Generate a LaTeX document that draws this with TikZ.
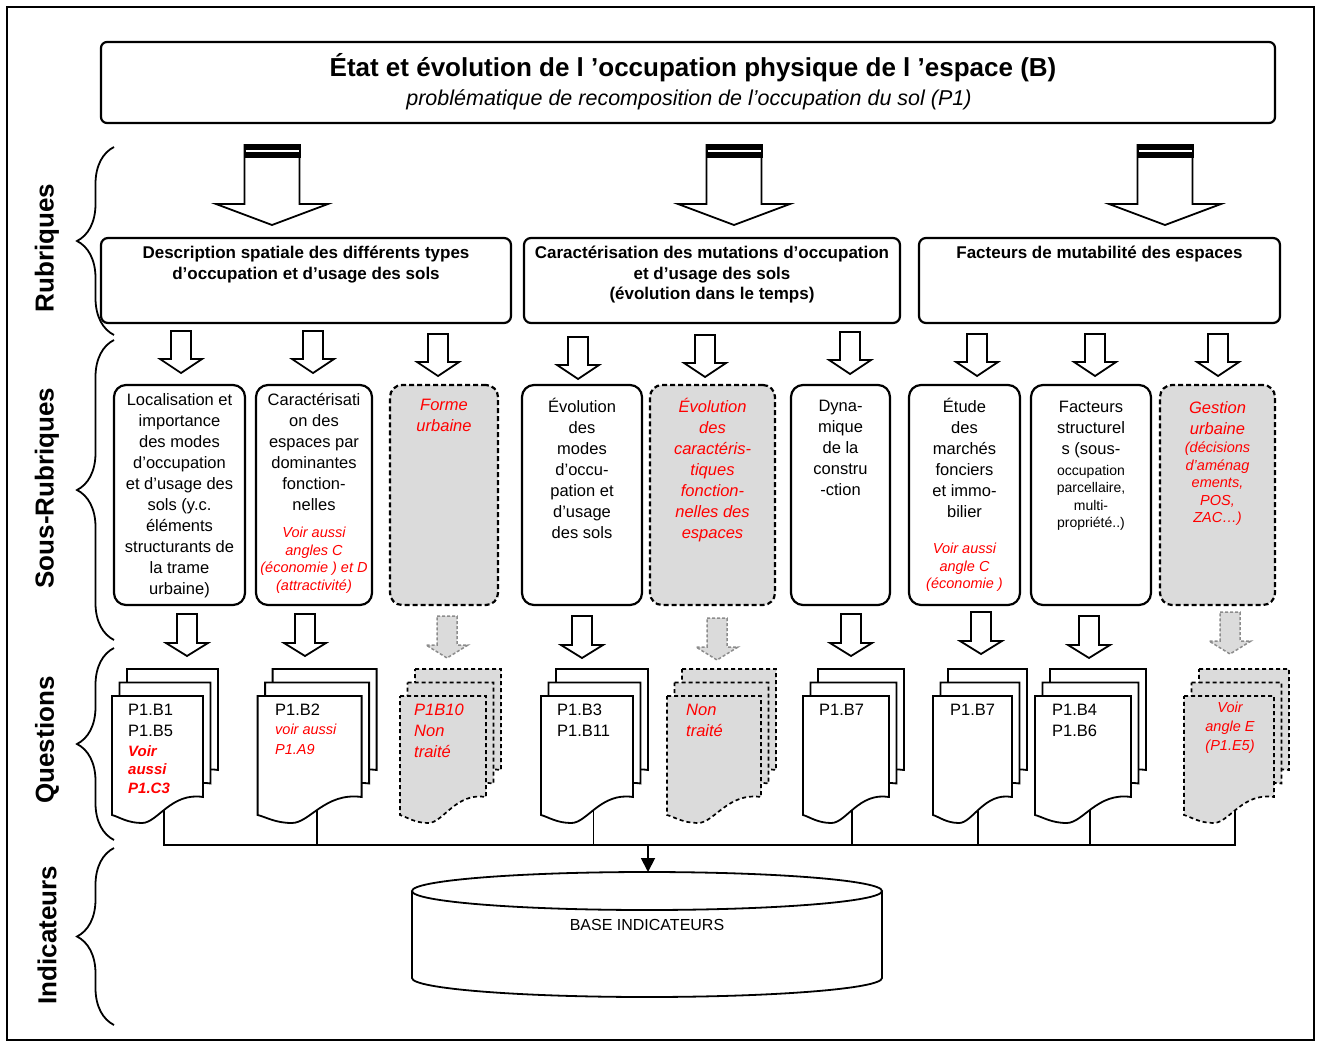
\documentclass[tikz,border=0pt]{standalone}
\usepackage{fontspec}
\setmainfont{Liberation Sans}
\usetikzlibrary{positioning}
\usetikzlibrary{arrows.meta}
\usetikzlibrary{decorations.pathreplacing}

\tikzset{
  fleche/.style={draw, line width=1.8pt, fill=white},
  flechegris/.style={draw=black!45, dash pattern=on 3pt off 2pt, line width=1.5pt, fill=black!14},
  page/.style={draw, line width=1.8pt, fill=white},
  pagegris/.style={draw, line width=1.7pt, fill=black!14, dash pattern=on 4pt off 3pt},
}

% pile de trois feuilles : style, x gauche, largeur, nom du point bas
\newcommand{\pile}[4]{%
  \foreach \k in {2,1,0}
    \draw[#1, shift={(#2+\k*7.5,696-\k*13.5)}] (0,0) -- (#3,0) -- (#3,101)
      .. controls (0.65*#3,96) and (0.5*#3,127) .. (0.33*#3,127)
      .. controls (0.17*#3,127) and (0.08*#3,121) .. (0,119) -- cycle;
  \coordinate (#4) at (#2+0.57*#3,810);
}

\begin{document}
\begin{tikzpicture}[x=1pt, y=-1pt,
  titrebox/.style={draw, line width=2.2pt, rounded corners=6pt},
  rubbox/.style={draw, line width=2.2pt, rounded corners=7pt, minimum height=85pt},
  rubtext/.style={font=\bfseries\fontsize{17}{20.5}\selectfont, align=center, inner sep=0pt, anchor=north},
  sousbox/.style={draw, line width=2.2pt, rounded corners=12pt, minimum height=220pt},
  grisbox/.style={sousbox, fill=black!14, dash pattern=on 5pt off 3pt},
  soustext/.style={font=\fontsize{16.5}{21}\selectfont, align=center, inner sep=0pt, anchor=north},
  petittext/.style={font=\fontsize{14}{17.5}\selectfont, align=center, inner sep=0pt, anchor=north},
  rougetext/.style={soustext, text=red, font=\itshape\fontsize{16.5}{21}\selectfont},
  rougepetit/.style={petittext, text=red, font=\itshape\fontsize{14.5}{17.5}\selectfont},
  doctext/.style={font=\fontsize{16.5}{20.5}\selectfont, align=left, inner sep=0pt, anchor=north west},
  docrouge/.style={doctext, text=red, font=\itshape\fontsize{14.5}{19.5}\selectfont},
  accolade/.style={decorate, decoration={brace, amplitude=37pt}, line width=1.8pt},
  etiq/.style={rotate=90, font=\bfseries\fontsize{26}{26}\selectfont},
]
\useasboundingbox (0,0) rectangle (1321,1043);
\draw[line width=2.5pt] (7,7) rectangle (1314,1040);

% titre
\node[titrebox, minimum width=1174pt, minimum height=81pt] (titre) at (688,82.5) {};
\node[font=\bfseries\fontsize{26}{30}\selectfont] (titre-t) at (693,68) {État et évolution de l ’occupation physique de l ’espace (B)};
\node[font=\itshape\fontsize{21.5}{24}\selectfont] (titre-s) at (689,100) {problématique de recomposition de  l’occupation du sol (P1)};

% accolades et etiquettes
\foreach \ya/\yb in {147/335, 340/640, 648/840, 848/1025}
  \draw[accolade] (114,\yb) -- (114,\ya);
\node[etiq] (l-rub) at (47,248) {Rubriques};
\node[etiq] (l-sous) at (47,488) {Sous-Rubriques};
\node[etiq] (l-quest) at (47,740) {Questions};
\node[etiq] (l-ind) at (47,935) {Indicateurs};

% grosses fleches
\foreach \cx in {272, 734, 1165} {
  \draw[fleche] (\cx-27.5,145) -- (\cx+27.5,145) -- (\cx+27.5,204) -- (\cx+56,204) -- (\cx,225)
    -- (\cx-56,204) -- (\cx-27.5,204) -- cycle;
  \fill (\cx-28.5,144) rectangle (\cx+28.5,158);
  \draw[white, line width=2pt] (\cx-26.5,151.5) -- (\cx+26.5,151.5);
}

% rubriques
\node[rubbox, minimum width=410pt] (r1) at (306,280.5) {};
\node[rubbox, minimum width=376pt] (r2) at (712,280.5) {};
\node[rubbox, minimum width=361pt] (r3) at (1099.5,280.5) {};
\node[rubtext] (r1-t) at (306,246) {Description spatiale des différents types\\d’occupation et d’usage des sols};
\node[rubtext] (r2-t) at (712,246) {Caractérisation des mutations d’occupation\\et d’usage des sols\\(évolution dans le temps)};
\node[rubtext] (r3-t) at (1099.5,246) {Facteurs de mutabilité des espaces};

% petites fleches
\foreach \cx/\yt in {181/331, 313/331, 438/334, 578/337, 705/335, 850/332, 977/334, 1095/334, 1218/334}
  \draw[fleche] (\cx-10,\yt) -- (\cx+10,\yt) -- (\cx+10,\yt+28) -- (\cx+21,\yt+28) -- (\cx,\yt+42)
    -- (\cx-21,\yt+28) -- (\cx-10,\yt+28) -- cycle;

% sous-rubriques
\node[sousbox, minimum width=131pt] (sa) at (179.5,495) {};
\node[sousbox, minimum width=116pt] (sb) at (314,495) {};
\node[grisbox, minimum width=108pt] (sc) at (444,495) {};
\node[sousbox, minimum width=120pt] (sd) at (582,495) {};
\node[grisbox, minimum width=125pt] (se) at (712.5,495) {};
\node[sousbox, minimum width=99pt] (sf) at (840.5,495) {};
\node[sousbox, minimum width=111pt] (sg) at (964.5,495) {};
\node[sousbox, minimum width=120pt] (sh) at (1091,495) {};
\node[grisbox, minimum width=115pt] (si) at (1217.5,495) {};

\node[soustext] (sa-t) at (179.5,393) {Localisation et\\importance\\des modes\\d’occupation\\et d’usage des\\sols (y.c.\\éléments\\structurants de\\la trame\\urbaine)};
\node[soustext] (sb-t) at (314,393) {Caractérisati\\on des\\espaces par\\dominantes\\fonction-\\nelles};
\node[rougepetit] (sb-r) at (314,527) {Voir aussi\\angles C\\(économie ) et D\\(attractivité)};
\node[rougetext] (sc-t) at (444,399) {Forme\\urbaine};
\node[soustext] (sd-t) at (582,398) {Évolution\\des\\modes\\d’occu-\\pation et\\d’usage\\des sols};
\node[rougetext] (se-t) at (712.5,398) {Évolution\\des\\caractéris-\\tiques\\fonction-\\nelles des\\espaces};
\node[soustext] (sf-t) at (840.5,400) {Dyna-\\mique\\de la\\constru\\-ction};
\node[soustext] (sg-t) at (964.5,398) {Étude\\des\\marchés\\fonciers\\et immo-\\bilier};
\node[rougepetit] (sg-r) at (964.5,543) {Voir aussi\\angle C\\(économie )};
\node[soustext] (sh-t) at (1091,401) {Facteurs\\structurel\\s (sous-};
\node[petittext] (sh-p) at (1091,465) {occupation\\parcellaire,\\multi-\\propriété..)};
\node[rougetext] (si-t) at (1217.5,401) {Gestion\\urbaine};
\node[rougepetit] (si-r) at (1217.5,442) {(décisions\\d’aménag\\ements,\\POS,\\ZAC…)};

% fleches vers les questions
\foreach \cx/\yt in {187/614, 305/614, 582/616, 851/614, 981/612, 1089/616}
  \draw[fleche] (\cx-10,\yt) -- (\cx+10,\yt) -- (\cx+10,\yt+29) -- (\cx+21,\yt+29) -- (\cx,\yt+42)
    -- (\cx-21,\yt+29) -- (\cx-10,\yt+29) -- cycle;
\foreach \cx/\yt in {447/616, 717/618, 1230/612}
  \draw[flechegris] (\cx-10,\yt) -- (\cx+10,\yt) -- (\cx+10,\yt+29) -- (\cx+21,\yt+29) -- (\cx,\yt+42)
    -- (\cx-21,\yt+29) -- (\cx-10,\yt+29) -- cycle;

% questions
\pile{page}{112}{91}{qa-b}
\pile{page}{257.6}{104}{qb-b}
\pile{pagegris}{400}{86}{qc-b}
\pile{page}{541}{92}{qd-b}
\pile{pagegris}{667}{94}{qe-b}
\pile{page}{803}{86}{qf-b}
\pile{page}{933}{79}{qg-b}
\pile{page}{1035}{96}{qh-b}
\pile{pagegris}{1184}{90}{qi-b}

\node[doctext] (qa) at (128,704) {P1.B1\\P1.B5};
\node[doctext, text=red, font=\bfseries\itshape\fontsize{15}{18.5}\selectfont] (qa-r) at (128,745) {Voir\\aussi\\P1.C3};
\node[doctext] (qb) at (275,704) {P1.B2};
\node[docrouge] (qb-r) at (275,724) {voir aussi\\P1.A9};
\node[doctext, text=red, font=\itshape\fontsize{16.5}{21}\selectfont] (qc) at (414,704) {P1B10\\Non\\traité};
\node[doctext] (qd) at (557,704) {P1.B3\\P1.B11};
\node[doctext, text=red, font=\itshape\fontsize{16.5}{21}\selectfont] (qe) at (686,704) {Non\\traité};
\node[doctext] (qf) at (819,704) {P1.B7};
\node[doctext] (qg) at (950,704) {P1.B7};
\node[doctext] (qh) at (1052,704) {P1.B4\\P1.B6};
\node[rougepetit, font=\itshape\fontsize{14.5}{19}\selectfont] (qi) at (1230,702) {Voir\\angle E\\(P1.E5)};

% base indicateurs
\coordinate (bus) at (648,845);
\coordinate (base-top) at (648,872);
\draw[line width=1.8pt] (qa-b) -- (qa-b |- bus) -- (qi-b |- bus) -- (qi-b);
\foreach \q in {qb-b, qd-b, qf-b, qg-b, qh-b}
  \draw[line width=1.8pt] (\q) -- (\q |- bus);
\draw[line width=1.8pt, -{Triangle[length=14pt, width=14pt]}] (bus) -- (base-top);

\draw[line width=1.8pt, fill=white] (412,891) -- (412,978)
  arc[start angle=180, end angle=360, x radius=235pt, y radius=19pt] -- (882,891);
\draw[line width=1.8pt] (647,891) ellipse [x radius=235pt, y radius=19pt];
\node[font=\fontsize{16}{18}\selectfont] (base) at (647,925) {BASE INDICATEURS};

\end{tikzpicture}
\end{document}
